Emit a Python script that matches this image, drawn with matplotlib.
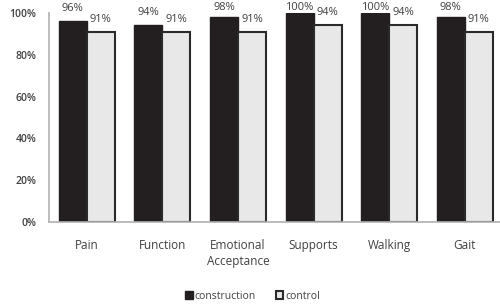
import matplotlib.pyplot as plt
import numpy as np

categories = ["Pain", "Function", "Emotional\nAcceptance", "Supports", "Walking", "Gait"]
construction = [96, 94, 98, 100, 100, 98]
control = [91, 91, 91, 94, 94, 91]

plt.rcParams["font.family"] = ["Open Sans", "DejaVu Sans"]
text_color = "#404040"

fig = plt.figure(figsize=(5, 3.07), dpi=100)
ax = fig.add_axes([0.098, 0.277, 0.904, 0.681])

x = np.arange(len(categories))
w = 0.37
b1 = ax.bar(x - w / 2, construction, w, color="#231f20", edgecolor="#231f20",
            linewidth=1, label="construction")
b2 = ax.bar(x + w / 2, control, w, color="#e8e8e8", edgecolor="#2a2a2a",
            linewidth=1.5, label="control")

# value labels above bars, kept inside the top of the frame
for bars, vals in ((b1, construction), (b2, control)):
    for bar, v in zip(bars, vals):
        ax.text(bar.get_x() + bar.get_width() / 2, min(v + 6, 102.5), f"{v}%",
                ha="center", va="center", fontsize=8, color=text_color,
                fontweight="medium", clip_on=False)

ax.set_xlim(-0.5, 5.48)
ax.set_ylim(0, 100)
ax.set_yticks(range(0, 101, 20))
ax.set_yticklabels([f"{t}%" for t in range(0, 101, 20)], fontsize=7.5,
                   color=text_color, fontweight="semibold")
ax.set_xticks(x)
ax.set_xticklabels(categories, fontsize=8.5, color=text_color, linespacing=1.3,
                   fontweight="medium")
ax.tick_params(axis="y", length=0, pad=9)
ax.tick_params(axis="x", length=0, pad=12)
for s in ("top", "right"):
    ax.spines[s].set_visible(False)
for s in ("left", "bottom"):
    ax.spines[s].set_color("#b0b0b0")
    ax.spines[s].set_linewidth(1.2)

leg = fig.legend(handles=[b1, b2], loc="center", bbox_to_anchor=(0.505, 0.035),
                 ncol=2, frameon=False, fontsize=7.5, handlelength=0.7,
                 handleheight=0.7, handletextpad=0.2, columnspacing=1.9)
for t in leg.get_texts():
    t.set_color(text_color)

fig.savefig("out.png", dpi=100)
